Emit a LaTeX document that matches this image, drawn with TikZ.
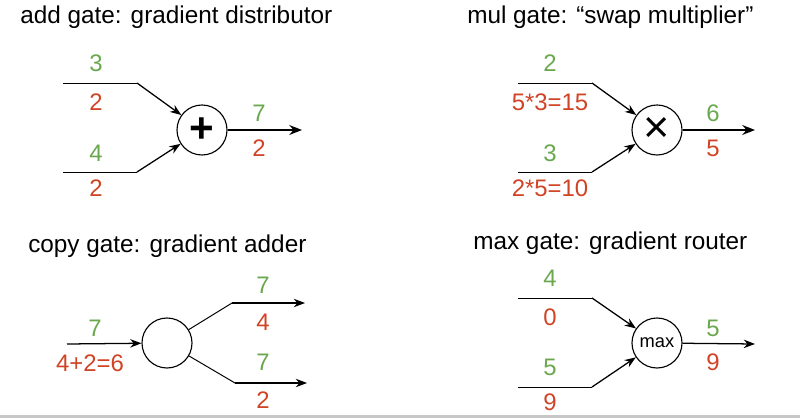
\documentclass[tikz,border=0pt]{standalone}
\usepackage{fontspec}
\setmainfont{Liberation Sans}
\usetikzlibrary{arrows.meta}

\definecolor{fwdgreen}{RGB}{106,168,79}
\definecolor{bwdred}{RGB}{208,68,38}

\tikzstyle{gate} = [circle, draw, line width=0.8pt,
    minimum size=1.25cm, inner sep=0pt]
\tikzstyle{title} = [anchor=west, inner sep=0pt,
    font=\fontsize{17.3}{20}\selectfont]
\tikzstyle{fwd} = [text=fwdgreen, inner sep=0pt,
    font=\fontsize{17}{20}\selectfont]
\tikzstyle{bwd} = [text=bwdred, inner sep=0pt,
    font=\fontsize{17}{20}\selectfont]
\tikzstyle{wire} = [line width=0.7pt]
\tikzstyle{feed} = [line width=0.9pt, -{Stealth[length=8pt,width=6pt]}]
\tikzstyle{outw} = [line width=1.4pt, -{Stealth[length=9pt,width=7pt]}]

\begin{document}
\begin{tikzpicture}[x=0.025cm, y=-0.025cm]
	\useasboundingbox (0,0) rectangle (800,418);
	\fill[black!22] (0,415) rectangle (800,418);
	% add gate
	\node [title] (tadd) at (20,17) {add gate: gradient distributor};
	\node [gate] (addg) at (202,130) {\fontsize{30}{30}\selectfont\textbf{+}};
	\coordinate (aia) at (63,83);
	\coordinate (aib) at (137,83);
	\coordinate (aja) at (63,172);
	\coordinate (ajb) at (137,172);
	\coordinate (aout) at (302,130);
	\draw [wire] (aia) -- (aib);
	\draw [feed] (aib) -- (addg);
	\draw [wire] (aja) -- (ajb);
	\draw [feed] (ajb) -- (addg);
	\draw [outw] (addg) -- (aout);
	\node [fwd] (af1) at (96,63) {3};
	\node [bwd] (ab1) at (96,102) {2};
	\node [fwd] (af2) at (96,153) {4};
	\node [bwd] (ab2) at (96,188) {2};
	\node [fwd] (af3) at (259,113) {7};
	\node [bwd] (ab3) at (259,148) {2};
	%
	% mul gate
	\node [title] (tmul) at (467,17) {mul gate: “swap multiplier”};
	\node [gate] (mulg) at (657,130) {\fontsize{32}{32}\selectfont ×};
	\coordinate (mia) at (518,83);
	\coordinate (mib) at (592,83);
	\coordinate (mja) at (518,172);
	\coordinate (mjb) at (592,172);
	\coordinate (mout) at (755,130);
	\draw [wire] (mia) -- (mib);
	\draw [feed] (mib) -- (mulg);
	\draw [wire] (mja) -- (mjb);
	\draw [feed] (mjb) -- (mulg);
	\draw [outw] (mulg) -- (mout);
	\node [fwd] (mf1) at (550,63) {2};
	\node [bwd] (mb1) at (550,102) {5*3=15};
	\node [fwd] (mf2) at (550,153) {3};
	\node [bwd] (mb2) at (550,188) {2*5=10};
	\node [fwd] (mf3) at (713,113) {6};
	\node [bwd] (mb3) at (713,148) {5};
	%
	% copy gate
	\node [title] (tcopy) at (28,246) {copy gate: gradient adder};
	\node [gate] (copyg) at (167,343) {};
	\coordinate (cin) at (67,344);
	\coordinate (cua) at (232,303);
	\coordinate (cub) at (305,303);
	\coordinate (cla) at (235,383);
	\coordinate (clb) at (307,383);
	\draw [feed] (cin) -- (copyg);
	\draw [wire] (copyg) -- (cua);
	\draw [feed] (cua) -- (cub);
	\draw [wire] (copyg) -- (cla);
	\draw [feed] (cla) -- (clb);
	\node [fwd] (cf1) at (95,328) {7};
	\node [bwd] (cb1) at (90,363) {4+2=6};
	\node [fwd] (cf2) at (263,285) {7};
	\node [bwd] (cb2) at (263,322) {4};
	\node [fwd] (cf3) at (263,362) {7};
	\node [bwd] (cb3) at (263,400) {2};
	%
	% max gate
	\node [title] (tmax) at (473,243) {max gate: gradient router};
	\node [gate] (maxg) at (657,343) {\fontsize{13}{13}\selectfont max};
	\coordinate (xia) at (518,298);
	\coordinate (xib) at (592,298);
	\coordinate (xja) at (518,387);
	\coordinate (xjb) at (592,387);
	\coordinate (xout) at (755,344);
	\draw [wire] (xia) -- (xib);
	\draw [feed] (xib) -- (maxg);
	\draw [wire] (xja) -- (xjb);
	\draw [feed] (xjb) -- (maxg);
	\draw [feed] (maxg) -- (xout);
	\node [fwd] (xf1) at (550,278) {4};
	\node [bwd] (xb1) at (550,317) {0};
	\node [fwd] (xf2) at (550,367) {5};
	\node [bwd] (xb2) at (550,402) {9};
	\node [fwd] (xf3) at (713,328) {5};
	\node [bwd] (xb3) at (713,362) {9};
\end{tikzpicture}
\end{document}
